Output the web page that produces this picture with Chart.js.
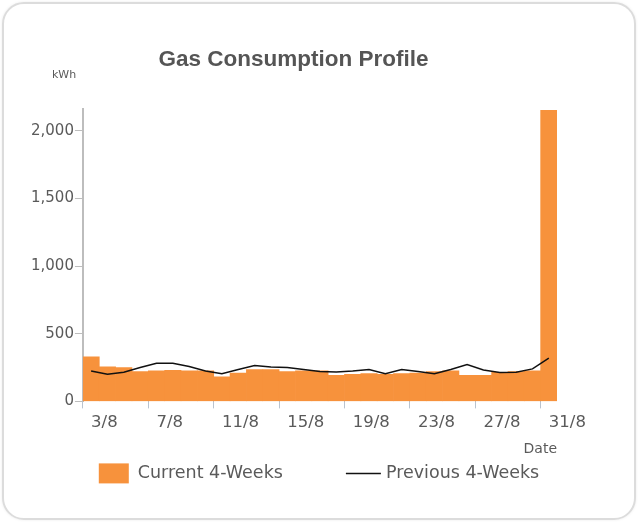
<!DOCTYPE html>
<html>
<head>
<meta charset="utf-8">
<script src="https://cdn.jsdelivr.net/npm/chart.js@4/dist/chart.umd.min.js"></script>
<style>
  html, body { margin: 0; padding: 0; background: #ffffff; }
  #wrap { position: relative; width: 640px; height: 524px; }
  #card { position: absolute; left: 2px; top: 2px; width: 630px; height: 514px;
          border: 2px solid #dcdcdc; border-radius: 22px; box-shadow: 0 0 3px rgba(0,0,0,0.08); }
  #c { position: absolute; left: 0; top: 0; }
</style>
</head>
<body>
<div id="wrap">
  <div id="card"></div>
  <canvas id="c" width="640" height="524"></canvas>
</div>
<script>
const categories = ['3/8','4/8','5/8','6/8','7/8','8/8','9/8','10/8','11/8','12/8','13/8','14/8','15/8','16/8','17/8','18/8','19/8','20/8','21/8','22/8','23/8','24/8','25/8','26/8','27/8','28/8','29/8','30/8','31/8'];
const currentFourWeeks = [329,255,250,220,225,230,225,225,181,210,235,235,220,225,225,193,200,205,200,205,210,220,225,193,193,215,220,225,2150];
const previousFourWeeks = [225,200,215,250,282,282,258,225,205,235,265,255,250,235,220,218,225,235,205,235,220,205,235,272,232,213,215,240,320];
const yTickValues = [0,500,1000,1500,2000];
const labelEvery = 4;

const ORANGE = '#F7923C';
const LINE = '#111111';
const TXT = '#5a5a5a';
const FONT = '"DejaVu Sans", Verdana, sans-serif';

const kwhLabel = {
  id: 'kwhLabel',
  afterDraw(chart) {
    const ctx = chart.ctx;
    ctx.save();
    ctx.font = '11px ' + FONT;
    ctx.fillStyle = TXT;
    ctx.textAlign = 'left';
    ctx.textBaseline = 'alphabetic';
    ctx.fillText('kWh', chart.scales.y.left + 22, chart.chartArea.top - 31);
    ctx.restore();
  }
};

// Legend drawn from the datasets (labels, colours) below the x axis
const bottomLegend = {
  id: 'bottomLegend',
  afterDraw(chart) {
    const ctx = chart.ctx;
    const ds = chart.data.datasets;
    ctx.save();
    ctx.font = '17.5px ' + FONT;
    const boxW = 30, boxH = 20, lineW = 35, gap1 = 9, gap2 = 5, between = 63;
    const t0 = ds[0].label, t1 = ds[1].label;
    const w0 = ctx.measureText(t0).width, w1 = ctx.measureText(t1).width;
    const total = boxW + gap1 + w0 + between + lineW + gap2 + w1;
    let x = chart.width / 2 - total / 2 - 1;
    const cy = chart.chartArea.bottom + 72;
    ctx.fillStyle = ds[0].backgroundColor;
    ctx.fillRect(x, cy - boxH / 2, boxW, boxH);
    x += boxW + gap1;
    ctx.fillStyle = TXT;
    ctx.textAlign = 'left';
    ctx.textBaseline = 'middle';
    ctx.fillText(t0, x, cy);
    x += w0 + between;
    ctx.strokeStyle = ds[1].borderColor;
    ctx.lineWidth = ds[1].borderWidth;
    ctx.beginPath();
    ctx.moveTo(x, cy);
    ctx.lineTo(x + lineW, cy);
    ctx.stroke();
    x += lineW + gap2;
    ctx.fillText(t1, x, cy);
    ctx.restore();
  }
};

new Chart(document.getElementById('c'), {
  type: 'bar',
  data: {
    labels: categories,
    datasets: [
      {
        type: 'bar',
        label: 'Current 4-Weeks',
        data: currentFourWeeks,
        backgroundColor: ORANGE,
        borderWidth: 0,
        categoryPercentage: 1.0,
        barPercentage: 1.0,
        order: 2
      },
      {
        type: 'line',
        label: 'Previous 4-Weeks',
        data: previousFourWeeks,
        borderColor: LINE,
        borderWidth: 1.5,
        pointRadius: 0,
        tension: 0,
        fill: false,
        order: 1
      }
    ]
  },
  options: {
    responsive: false,
    animation: false,
    layout: { padding: { left: 30, right: 83, top: 30, bottom: 64 } },
    plugins: {
      tooltip: { enabled: false },
      legend: { display: false },
      title: {
        display: true,
        text: 'Gas Consumption Profile',
        color: '#555555',
        font: { family: '"Liberation Sans", Arial, sans-serif', size: 22.5, weight: 'bold' },
        padding: { top: 16, bottom: 36 }
      }
    },
    scales: {
      x: {
        offset: true,
        border: { display: false },
        grid: {
          drawOnChartArea: false,
          tickLength: 7,
          color: (ctx) => (ctx.index % labelEvery === 0 ? '#b9c3cf' : 'rgba(0,0,0,0)')
        },
        ticks: {
          autoSkip: false,
          maxRotation: 0,
          align: 'start',
          padding: 4,
          color: TXT,
          font: { family: FONT, size: 16.5 },
          callback: function(value, index) { return index % labelEvery === 0 ? this.getLabelForValue(value) : ''; }
        },
        title: {
          display: true,
          text: 'Date',
          align: 'end',
          color: TXT,
          font: { family: FONT, size: 14 },
          padding: { top: 5, bottom: 2 }
        }
      },
      y: {
        min: 0,
        max: 2160,
        border: { display: true, color: '#bdbdbd', width: 2 },
        grid: { drawOnChartArea: false, tickLength: 8, color: '#bdbdbd' },
        afterBuildTicks(scale) {
          scale.ticks = yTickValues.map(v => ({ value: v }));
        },
        ticks: {
          padding: 1,
          color: TXT,
          font: { family: FONT, size: 15 },
          callback: (v) => Number(v).toLocaleString('en-US')
        }
      }
    }
  },
  plugins: [kwhLabel, bottomLegend]
});
</script>
</body>
</html>
